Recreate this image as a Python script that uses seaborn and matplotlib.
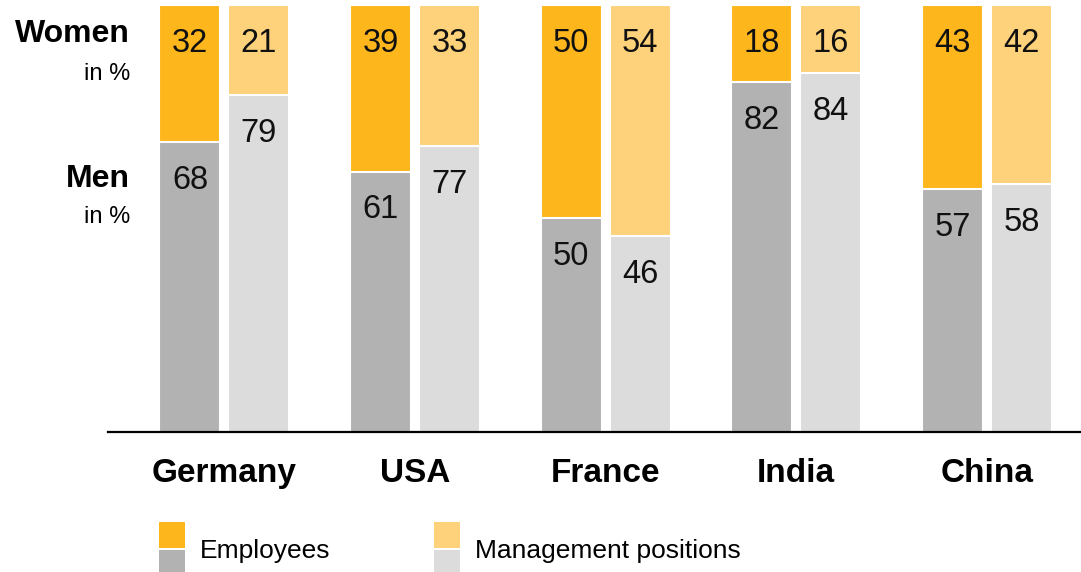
import pandas as pd
import seaborn as sns
import matplotlib.pyplot as plt
from matplotlib.patches import Rectangle

countries = ["Germany", "USA", "France", "India", "China"]
groups = ["Employees", "Management positions"]
women_emp = [32, 39, 50, 18, 43]
men_emp = [68, 61, 50, 82, 57]
women_mgmt = [21, 33, 54, 16, 42]
men_mgmt = [79, 77, 46, 84, 58]

orange = ["#FDB71C", "#FED27A"]
grey = ["#B2B2B2", "#DCDCDC"]

rows = []
for i, c in enumerate(countries):
    rows.append({"country": c, "group": groups[0], "women": women_emp[i], "men": men_emp[i]})
    rows.append({"country": c, "group": groups[1], "women": women_mgmt[i], "men": men_mgmt[i]})
df = pd.DataFrame(rows)
df["total"] = 100
df["split"] = 100 - df["women"]

sns.set_theme(style="white")
plt.rcParams["font.family"] = ["Liberation Sans Narrow", "Liberation Sans", "DejaVu Sans"]
plt.rcParams["text.color"] = "black"

fig = plt.figure(figsize=(10.81, 5.72), dpi=100)
ax = fig.add_axes([108 / 1081, 140 / 572, 1 - 108 / 1081, 427 / 572])

# women on top: full bars first, men drawn over them
sns.barplot(data=df, x="country", y="total", hue="group", order=countries, hue_order=groups,
            palette=orange, saturation=1, width=0.724, gap=0.116, edgecolor="white",
            linewidth=1.5, legend=False, ax=ax)
sns.barplot(data=df, x="country", y="split", hue="group", order=countries, hue_order=groups,
            palette=grey, saturation=1, width=0.724, gap=0.116, edgecolor="white",
            linewidth=1.5, legend=False, ax=ax)

women_vals = [women_emp, women_mgmt]
men_vals = [men_emp, men_mgmt]
for k in range(2):
    for j, bar in enumerate(ax.containers[k]):
        cx = bar.get_x() + bar.get_width() / 2
        ax.text(cx, 100 - 8.9, str(women_vals[k][j]), ha="center", va="center",
                fontsize=23.5, color="#111111")
    for j, bar in enumerate(ax.containers[k + 2]):
        cx = bar.get_x() + bar.get_width() / 2
        ax.text(cx, bar.get_height() - 9.0, str(men_vals[k][j]), ha="center", va="center",
                fontsize=23.5, color="#111111")

ax.set_xlim(-0.611, 4.494)
ax.set_ylim(0, 100)
ax.set_xlabel("")
ax.set_ylabel("")
ax.set_yticks([])
for s in ["top", "right", "left"]:
    ax.spines[s].set_visible(False)
ax.spines["bottom"].set_color("black")
ax.spines["bottom"].set_linewidth(1.6)
ax.spines["bottom"].set_zorder(5)
ax.tick_params(axis="x", length=0, pad=19)
for lbl in ax.get_xticklabels():
    lbl.set_fontsize(24)
    lbl.set_fontweight("bold")
    lbl.set_color("black")

# left side captions
fig.text(130 / 1081, 1 - 34 / 572, "Women", ha="right", va="center", fontsize=23, fontweight="bold")
fig.text(130 / 1081, 1 - 74 / 572, "in %", ha="right", va="center", fontsize=17)
fig.text(130 / 1081, 1 - 179 / 572, "Men", ha="right", va="center", fontsize=23, fontweight="bold")
fig.text(130 / 1081, 1 - 217 / 572, "in %", ha="right", va="center", fontsize=17)

# legend
for x0, k in [(159, 0), (434, 1)]:
    fig.add_artist(Rectangle((x0 / 1081, 1 - 548 / 572), 26 / 1081, 26 / 572,
                             transform=fig.transFigure, color=orange[k], lw=0))
    fig.add_artist(Rectangle((x0 / 1081, 0), 26 / 1081, 22 / 572,
                             transform=fig.transFigure, color=grey[k], lw=0))
fig.text(200 / 1081, 1 - 551 / 572, groups[0], ha="left", va="center", fontsize=19)
fig.text(475 / 1081, 1 - 551 / 572, groups[1], ha="left", va="center", fontsize=19)

fig.savefig("out.png", dpi=100)
